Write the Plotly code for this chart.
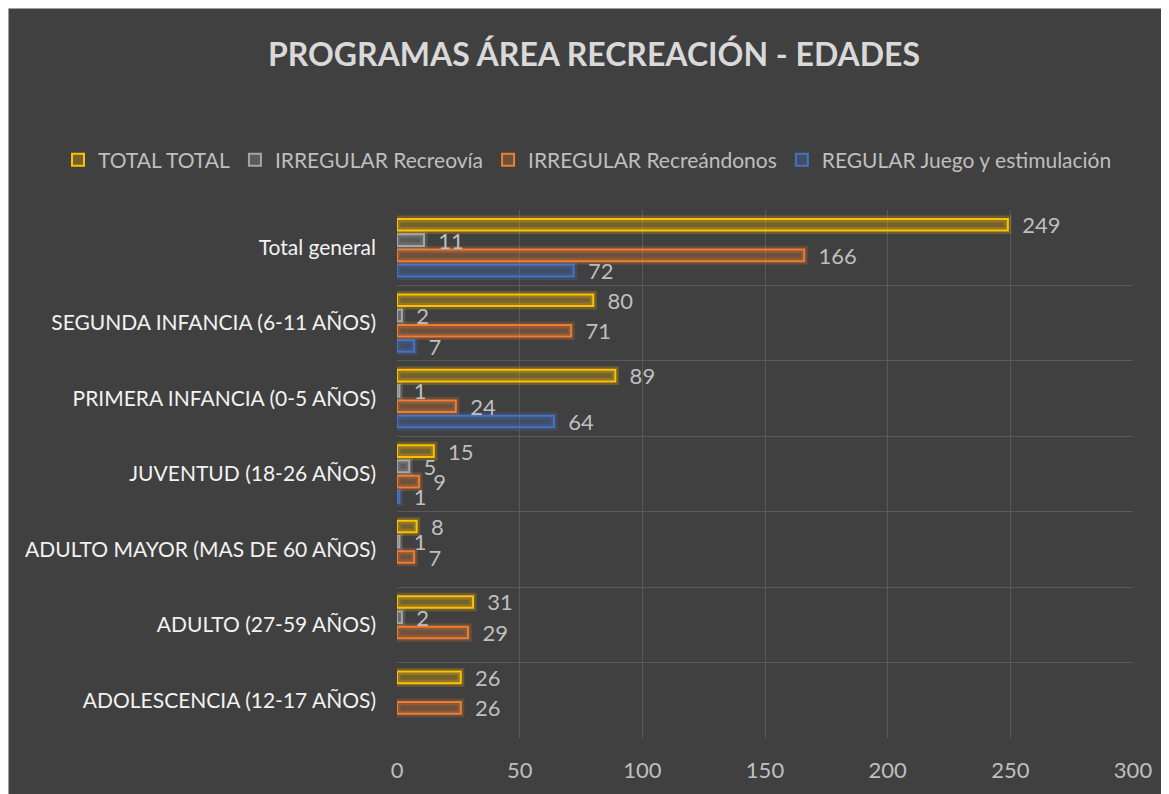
import plotly.graph_objects as go

categories = [
    "ADOLESCENCIA (12-17 AÑOS)",
    "ADULTO (27-59 AÑOS)",
    "ADULTO MAYOR (MAS DE 60 AÑOS)",
    "JUVENTUD (18-26 AÑOS)",
    "PRIMERA INFANCIA (0-5 AÑOS)",
    "SEGUNDA INFANCIA (6-11 AÑOS)",
    "Total general",
]
regular_juego = [None, None, None, 1, 64, 7, 72]
irregular_recreandonos = [26, 29, 7, 9, 24, 71, 166]
irregular_recreovia = [None, 2, 1, 5, 1, 2, 11]
total_total = [26, 31, 8, 15, 89, 80, 249]

series = [
    ("REGULAR Juego y estimulación", regular_juego, (68, 114, 196)),
    ("IRREGULAR Recreándonos", irregular_recreandonos, (237, 125, 49)),
    ("IRREGULAR Recreovía", irregular_recreovia, (165, 165, 165)),
    ("TOTAL TOTAL", total_total, (255, 192, 0)),
]
x_ticks = [0, 50, 100, 150, 200, 250, 300]

FONT = "Lato"
fig = go.Figure()
for name, vals, (r, g, b) in series:
    # soft glow around each bar
    fig.add_trace(go.Bar(
        y=categories, x=vals, orientation="h", offsetgroup=name,
        marker=dict(color="rgba(0,0,0,0)", line=dict(color=f"rgba({r},{g},{b},0.22)", width=7)),
        showlegend=False, hoverinfo="skip",
    ))
    fig.add_trace(go.Bar(
        y=categories, x=vals, orientation="h", name=name, offsetgroup=name,
        marker=dict(color=f"rgba({r},{g},{b},0.27)", line=dict(color=f"rgb({r},{g},{b})", width=2)),
        texttemplate="\u00a0\u00a0%{x}", textposition="outside", constraintext="none",
        cliponaxis=False,
        textfont=dict(family=FONT, size=22, color="#bfbfbf"),
    ))

W, H = 1161, 786
L, R, T, B = 389, 36, 202, 56
pw, ph = W - L - R, H - T - B

fig.add_shape(type="rect", xref="paper", yref="paper",
              x0=-L / pw, x1=(W - L) / pw + 0.01, y0=-B / ph - 0.01, y1=(H - B) / ph,
              fillcolor="rgba(0,0,0,0)", line=dict(color="#bfbfbf", width=1.5), layer="below")

fig.update_layout(
    width=W, height=H,
    margin=dict(l=L, r=R, t=T, b=B),
    paper_bgcolor="#404040",
    plot_bgcolor="#404040",
    barmode="group",
    bargap=0.19,
    bargroupgap=0.24,
    title=dict(text="<b>PROGRAMAS ÁREA RECREACIÓN - EDADES</b>", x=586 / W, xanchor="center",
               y=1 - 47 / H, yanchor="middle",
               font=dict(family=FONT, size=32, color="#d9d9d9")),
    legend=dict(orientation="h", traceorder="reversed",
                x=(50 - L) / pw, xanchor="left", y=(H - B - 152) / ph, yanchor="middle",
                font=dict(family=FONT, size=21, color="#bfbfbf"),
                bgcolor="rgba(0,0,0,0)", itemwidth=30),
    xaxis=dict(range=[0, 300], tickvals=x_ticks, showgrid=True, gridcolor="#595959", gridwidth=1,
               zeroline=False, showline=False,
               tickfont=dict(family=FONT, size=22, color="#bfbfbf"), ticklabelstandoff=17),
    yaxis=dict(categoryorder="array", categoryarray=categories, tickson="boundaries",
               showgrid=True, gridcolor="#595959", gridwidth=1, ticks="", showline=False,
               tickfont=dict(family=FONT, size=21, color="#f2f2f2"), ticklabelstandoff=20),
    showlegend=True,
)

fig.write_html("out.html")
